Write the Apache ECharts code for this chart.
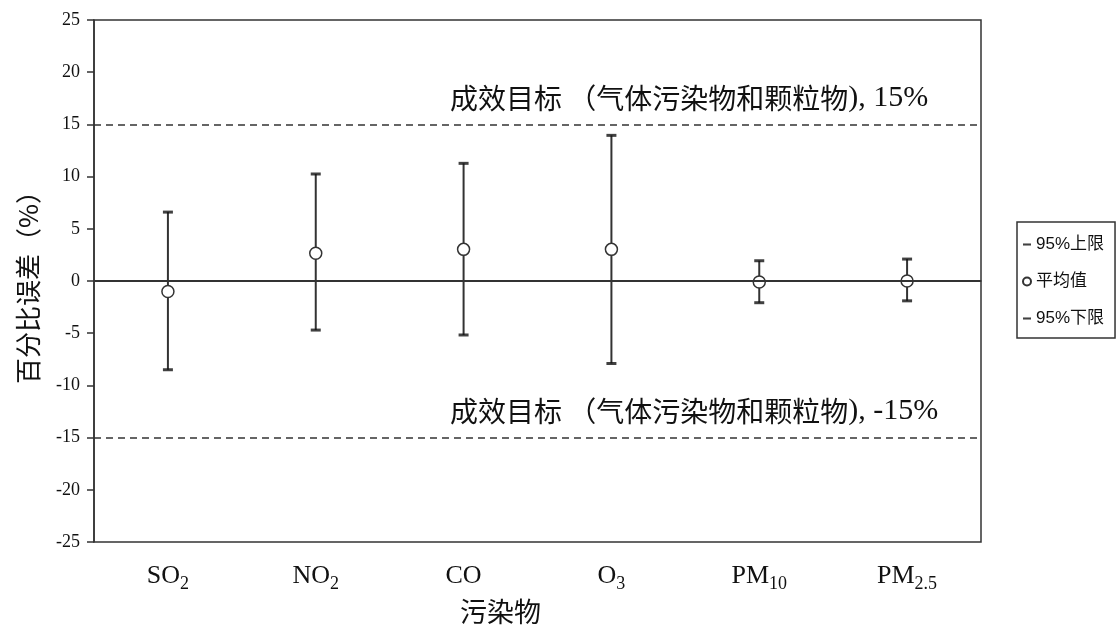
<!DOCTYPE html>
<html><head><meta charset="utf-8">
<script src="https://cdn.jsdelivr.net/npm/echarts@6/dist/echarts.min.js"></script>
<style>html,body{margin:0;padding:0;background:#fff}#c{width:1116px;height:628px}</style>
</head><body><div id="c"></div>
<script>
// ---- data ----
const categories = ['SO2', 'NO2', 'CO', 'O3', 'PM10', 'PM2.5'];
const categoryMain = ['SO', 'NO', 'CO', 'O', 'PM', 'PM'];
const categorySub = ['2', '2', '', '3', '10', '2.5'];
const upper95 = [6.6, 10.25, 11.27, 13.95, 1.94, 2.1];
const mean = [-1.0, 2.65, 3.03, 3.03, -0.1, 0.0];
const lower95 = [-8.5, -4.7, -5.17, -7.9, -2.08, -1.9];
const targetValues = [15, -15];
const targetLabels = ['15%', '-15%'];
const seriesNames = ['95%上限', '平均值', '95%下限'];
const yMin = -25, yMax = 25, yInterval = 5;

const ink = '#333';
const serif = "'Liberation Serif','Times New Roman',serif";
const cjk = "'Noto Sans CJK SC','Liberation Sans',sans-serif";

const chart = echarts.init(document.getElementById('c'), null, {renderer: 'canvas'});

const dashPath = 'path://M0,0M10,10M0,3.7L10,3.7L10,6.3L0,6.3Z';

const option = {
  animation: false,
  backgroundColor: '#fff',
  grid: {left: 94, right: 135, top: 20, bottom: 86, containLabel: false, outerBoundsMode: 'none',
         show: true, borderColor: ink, borderWidth: 1.5, backgroundColor: 'transparent'},
  legend: {
    orient: 'vertical', left: 1017, top: 222,
    padding: [14, 11, 11, 5],
    itemGap: 20,
    itemWidth: 8, itemHeight: 8,
    itemTextGap: 5,
    borderColor: ink, borderWidth: 1.5,
    textStyle: {fontFamily: "'Liberation Sans','Noto Sans CJK SC',sans-serif", fontSize: 17, color: '#111'},
    data: [
      {name: seriesNames[0], icon: dashPath},
      {name: seriesNames[1], icon: 'circle'},
      {name: seriesNames[2], icon: dashPath}
    ]
  },
  xAxis: {
    type: 'category', data: categories,
    name: '污染物', nameLocation: 'middle', nameGap: 48,
    nameTextStyle: {fontFamily: cjk, fontSize: 27, color: '#111', padding: [0, 74, 0, 0]},
    axisLine: {lineStyle: {color: ink, width: 1.5}},
    axisTick: {show: false},
    axisLabel: {
      margin: 21,
      formatter: (v, i) => '{m|' + categoryMain[i] + '}' + (categorySub[i] ? '{sub|' + categorySub[i] + '}' : ''),
      rich: {
        m: {fontFamily: serif, fontSize: 26, color: '#111', lineHeight: 30, verticalAlign: 'top'},
        sub: {fontFamily: serif, fontSize: 18, color: '#111', lineHeight: 18, verticalAlign: 'bottom'}
      }
    }
  },
  yAxis: {
    type: 'value', min: yMin, max: yMax, interval: yInterval,
    name: '百分比误差（%）', nameLocation: 'middle', nameGap: 53, nameRotate: 90,
    nameTextStyle: {fontFamily: cjk, fontSize: 26, color: '#111', padding: [0, 0, 0, 0]},
    axisLine: {show: true, lineStyle: {color: ink, width: 1.5}},
    axisTick: {show: true, inside: false, length: 7, lineStyle: {color: ink, width: 1.5}},
    splitLine: {show: false},
    axisLabel: {margin: 14, fontFamily: serif, fontSize: 18, color: '#111'}
  },
  series: [
    {
      name: 'errorbar', type: 'custom', z: 2,
      data: categories.map((c, i) => [i, lower95[i], upper95[i]]),
      renderItem: (params, api) => {
        const p1 = api.coord([api.value(0), api.value(1)]);
        const p2 = api.coord([api.value(0), api.value(2)]);
        return {type: 'line', shape: {x1: p1[0], y1: p1[1], x2: p2[0], y2: p2[1]}, style: {stroke: ink, lineWidth: 2}};
      },
      markLine: {
        silent: true, symbol: 'none', animation: false,
        data: [
          {yAxis: 0, lineStyle: {type: 'solid', color: ink, width: 1.8}, label: {show: false}},
          ...targetValues.map((v, k) => ({
            yAxis: v,
            lineStyle: {type: [7, 5], color: ink, width: 1.5},
            label: {
              show: true, position: 'insideStartTop', distance: [356, 11],
              formatter: '{c|成效目标 （气体污染物和颗粒物}{e|), ' + targetLabels[k] + '}',
              rich: {
                c: {fontFamily: cjk, fontSize: 28, color: '#111'},
                e: {fontFamily: serif, fontSize: 30, color: '#111'}
              }
            }
          }))
        ]
      }
    },
    {
      name: seriesNames[0], type: 'scatter', z: 3,
      symbol: 'rect', symbolSize: [10, 3],
      itemStyle: {color: '#111'},
      data: upper95
    },
    {
      name: seriesNames[2], type: 'scatter', z: 3,
      symbol: 'rect', symbolSize: [10, 3],
      itemStyle: {color: '#111'},
      data: lower95
    },
    {
      name: seriesNames[1], type: 'scatter', z: 4,
      symbol: 'circle', symbolSize: 12,
      itemStyle: {color: '#fff', borderColor: ink, borderWidth: 1.5, opacity: 1},
      data: mean
    }
  ]
};
chart.setOption(option);
</script></body></html>
